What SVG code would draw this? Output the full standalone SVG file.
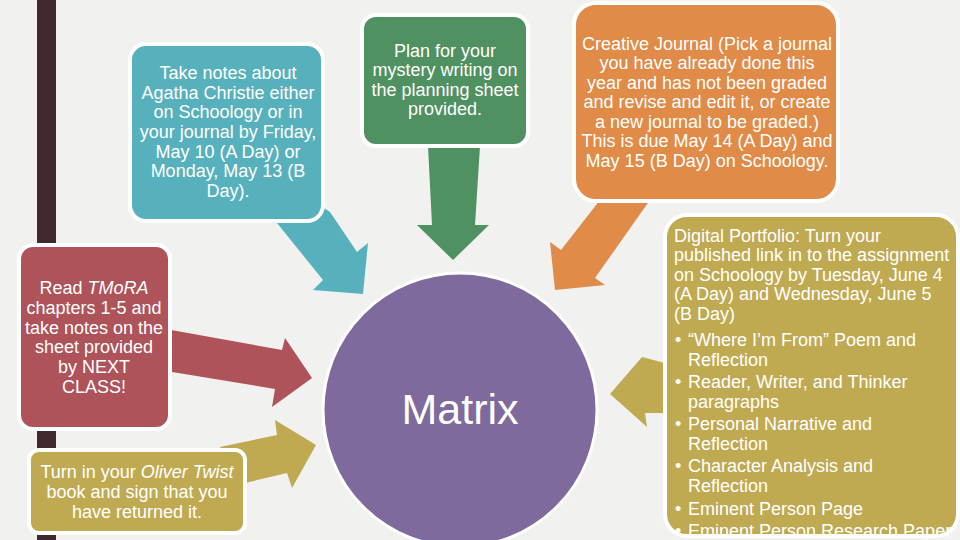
<svg xmlns="http://www.w3.org/2000/svg" width="960" height="540" viewBox="0 0 960 540">
<style>
text{font-family:"Liberation Sans",Arial,sans-serif;fill:#ffffff;font-size:18px}
.c{text-anchor:middle}
.big{font-size:43px}
.box{stroke:#ffffff;stroke-width:4}
.teal{fill:#57b1bd}.green{fill:#4f9160}.orange{fill:#e08b48}.red{fill:#ad5359}.gold{fill:#bfaa52}.purple{fill:#7f6a9e}
</style>
<rect x="0" y="0" width="960" height="540" fill="#f1f1ef"/>
<rect x="37" y="0" width="19" height="540" fill="#3e2a2f"/>
<g id="connectors">
<polygon class="teal" points="277,223 318,204 330,212 357,252 368,243 363,294 313,290 323,280"/>
<polygon class="green" points="428,146 480,146 475,225 489,225 453,260 417,225 432,225"/>
<polygon class="orange" points="600,200 650,200 595,278 605,285 555,290 550,242 561,250"/>
<polygon class="red" points="160,328 282,350 285,338 312,378 272,407 275,389 160,370"/>
<polygon class="gold" points="220,447 277,435 275,420 316,445 292,488 287,473 245,483"/>
<polygon class="gold" points="680,367 642,357 610,394 647,427 645,413 680,413"/>
</g>
<g id="node-teal">
<rect class="box teal" x="130" y="44" width="193" height="177" rx="16"/>
<text class="c" x="228" y="79">Take notes about</text>
<text class="c" x="228" y="99">Agatha Christie either</text>
<text class="c" x="228" y="118">on Schoology or in</text>
<text class="c" x="228" y="138">your journal by Friday,</text>
<text class="c" x="228" y="158">May 10 (A Day) or</text>
<text class="c" x="228" y="177">Monday, May 13 (B</text>
<text class="c" x="228" y="197">Day).</text>
</g>
<g id="node-green">
<rect class="box green" x="362" y="15" width="166" height="131" rx="14"/>
<text class="c" x="445" y="57">Plan for your</text>
<text class="c" x="445" y="76">mystery writing on</text>
<text class="c" x="445" y="96">the planning sheet</text>
<text class="c" x="445" y="115">provided.</text>
</g>
<g id="node-orange">
<rect class="box orange" x="574" y="3" width="264" height="198" rx="22"/>
<text class="c" x="707" y="50">Creative Journal (Pick a journal</text>
<text class="c" x="707" y="69">you have already done this</text>
<text class="c" x="707" y="89">year and has not been graded</text>
<text class="c" x="707" y="108">and revise and edit it, or create</text>
<text class="c" x="707" y="128">a new journal to be graded.)</text>
<text class="c" x="707" y="147">This is due May 14 (A Day) and</text>
<text class="c" x="707" y="167">May 15 (B Day) on Schoology.</text>
</g>
<g id="node-red">
<rect class="box red" x="19" y="245" width="151" height="184" rx="14"/>
<text class="c" x="94" y="294">Read <tspan font-style="italic">TMoRA</tspan></text>
<text class="c" x="94" y="314">chapters 1-5 and</text>
<text class="c" x="94" y="334">take notes on the</text>
<text class="c" x="94" y="353">sheet provided</text>
<text class="c" x="94" y="373">by NEXT</text>
<text class="c" x="94" y="393">CLASS!</text>
</g>
<g id="node-gold">
<rect class="box gold" x="29" y="450" width="216" height="83" rx="10"/>
<text class="c" x="137" y="478">Turn in your <tspan font-style="italic">Oliver Twist</tspan></text>
<text class="c" x="137" y="498">book and sign that you</text>
<text class="c" x="137" y="518">have returned it.</text>
</g>
<g id="node-portfolio">
<rect class="box gold" x="665" y="215" width="293" height="321" rx="22"/>
<text x="674" y="242">Digital Portfolio: Turn your</text>
<text x="674" y="261">published link in to the assignment</text>
<text x="674" y="281">on Schoology by Tuesday, June 4</text>
<text x="674" y="300">(A Day) and Wednesday, June 5</text>
<text x="674" y="320">(B Day)</text>
<text x="675" y="346">•</text><text x="688" y="346">“Where I’m From” Poem and</text>
<text x="688" y="366">Reflection</text>
<text x="675" y="388">•</text><text x="688" y="388">Reader, Writer, and Thinker</text>
<text x="688" y="408">paragraphs</text>
<text x="675" y="430">•</text><text x="688" y="430">Personal Narrative and</text>
<text x="688" y="450">Reflection</text>
<text x="675" y="472">•</text><text x="688" y="472">Character Analysis and</text>
<text x="688" y="492">Reflection</text>
<text x="675" y="515">•</text><text x="688" y="515">Eminent Person Page</text>
<text x="675" y="537">•</text><text x="688" y="537">Eminent Person Research Paper</text>
</g>
<g id="node-matrix">
<circle class="purple" cx="460" cy="410" r="137" stroke="#ffffff" stroke-width="3"/>
<text class="c big" x="460" y="424">Matrix</text>
</g>
</svg>
